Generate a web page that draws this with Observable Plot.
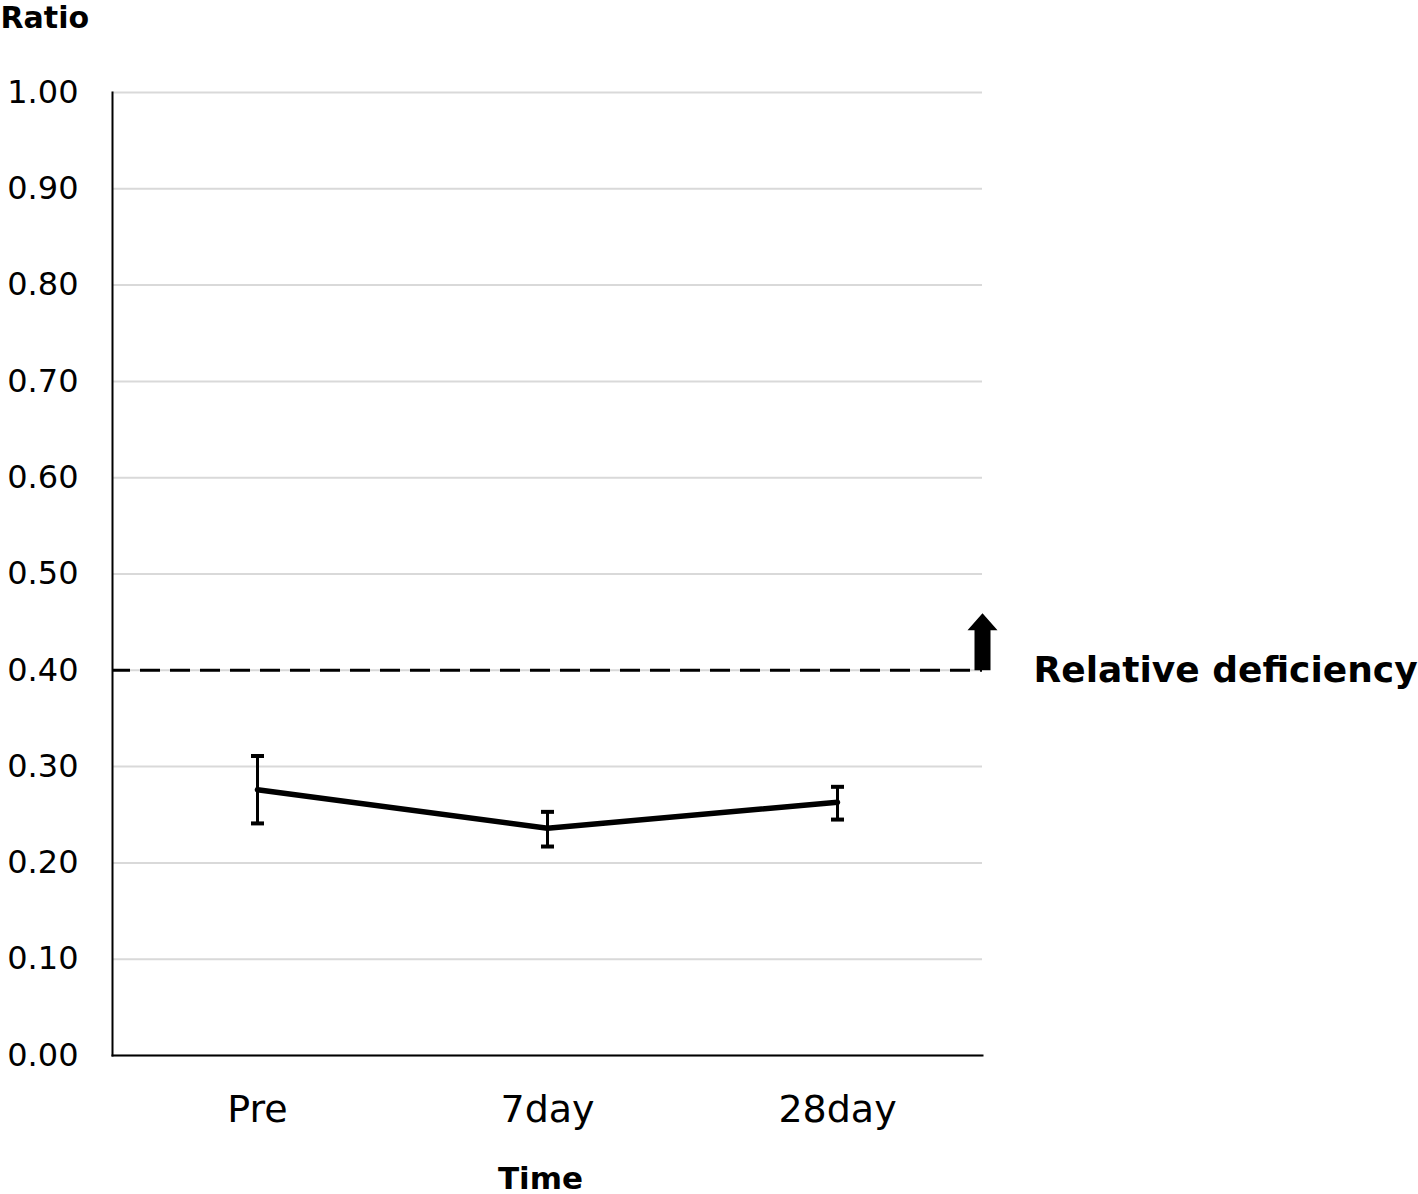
<!DOCTYPE html>
<html>
<head>
<meta charset="utf-8">
<script src="https://cdn.jsdelivr.net/npm/d3@7"></script>
<script src="https://cdn.jsdelivr.net/npm/@observablehq/plot@0.6"></script>
<style>
  html, body { margin: 0; padding: 0; background: white; }
</style>
</head>
<body>
<div id="chart"></div>
<script>
const categories = ["Pre", "7day", "28day"];
const means = [0.276, 0.236, 0.263];
const lower = [0.241, 0.217, 0.245];
const upper = [0.311, 0.253, 0.279];
const yTicks = [0, 0.1, 0.2, 0.3, 0.4, 0.5, 0.6, 0.7, 0.8, 0.9, 1.0];
const threshold = 0.40;
const thresholdLabel = "Relative deficiency";
const yLabel = "Ratio";
const xLabel = "Time";

const data = categories.map((c, i) => ({time: c, mean: means[i], lo: lower[i], hi: upper[i]}));

const blockArrow = {
  draw(context, l) {
    const head = 17, shaft = 8, wing = 15;
    context.moveTo(-shaft, 0);
    context.lineTo(-shaft, -(l - head));
    context.lineTo(-wing, -(l - head));
    context.lineTo(0, -l);
    context.lineTo(wing, -(l - head));
    context.lineTo(shaft, -(l - head));
    context.lineTo(shaft, 0);
    context.closePath();
  }
};

const capSymbol = {
  draw(context) {
    context.moveTo(-6.5, 0);
    context.lineTo(6.5, 0);
  }
};

const chart = Plot.plot({
  width: 1418,
  height: 1194,
  marginLeft: 112,
  marginRight: 436,
  marginTop: 92,
  marginBottom: 139,
  style: {fontFamily: "DejaVu Sans", background: "white", color: "black"},
  x: {type: "point", domain: categories, padding: 0.5},
  y: {domain: [0, 1]},
  marks: [
    Plot.gridY(yTicks, {stroke: "#d9d9d9", strokeOpacity: 1, strokeWidth: 2}),
    Plot.ruleY([threshold], {stroke: "black", strokeWidth: 3, strokeDasharray: "20,10", strokeDashoffset: 2}),
    Plot.frame({anchor: "left", stroke: "black", strokeWidth: 2}),
    Plot.frame({anchor: "bottom", stroke: "black", strokeWidth: 2}),
    Plot.axisY(yTicks, {tickSize: 0, tickPadding: 34, fontSize: 32, tickFormat: d3.format(".2f"), label: null}),
    Plot.axisX({tickSize: 0, tickPadding: 40, fontSize: 38, label: null}),
    Plot.line(data, {x: "time", y: "mean", stroke: "black", strokeWidth: 5.5}),
    Plot.ruleX(data, {x: "time", y1: "lo", y2: "hi", stroke: "black", strokeWidth: 3}),
    Plot.dot(data, {x: "time", y: "lo", symbol: capSymbol, stroke: "black", strokeWidth: 4, fill: "none"}),
    Plot.dot(data, {x: "time", y: "hi", symbol: capSymbol, stroke: "black", strokeWidth: 4, fill: "none"}),
    Plot.vector([threshold], {y: d => d, frameAnchor: "right", length: 57, rotate: 0, anchor: "start", shape: blockArrow, fill: "black", stroke: "none"}),
    Plot.text([thresholdLabel], {y: [threshold], frameAnchor: "right", dx: 51, textAnchor: "start", fontSize: 36, fontWeight: "bold", fill: "black"}),
    Plot.text([yLabel], {frameAnchor: "top-left", dx: -112, dy: -86, textAnchor: "start", fontSize: 30, fontWeight: "bold", fill: "black"}),
    Plot.text([xLabel], {frameAnchor: "bottom", dx: -7, dy: 133, fontSize: 31, fontWeight: "bold", fill: "black"})
  ]
});

document.getElementById("chart").appendChild(chart);
</script>
</body>
</html>
